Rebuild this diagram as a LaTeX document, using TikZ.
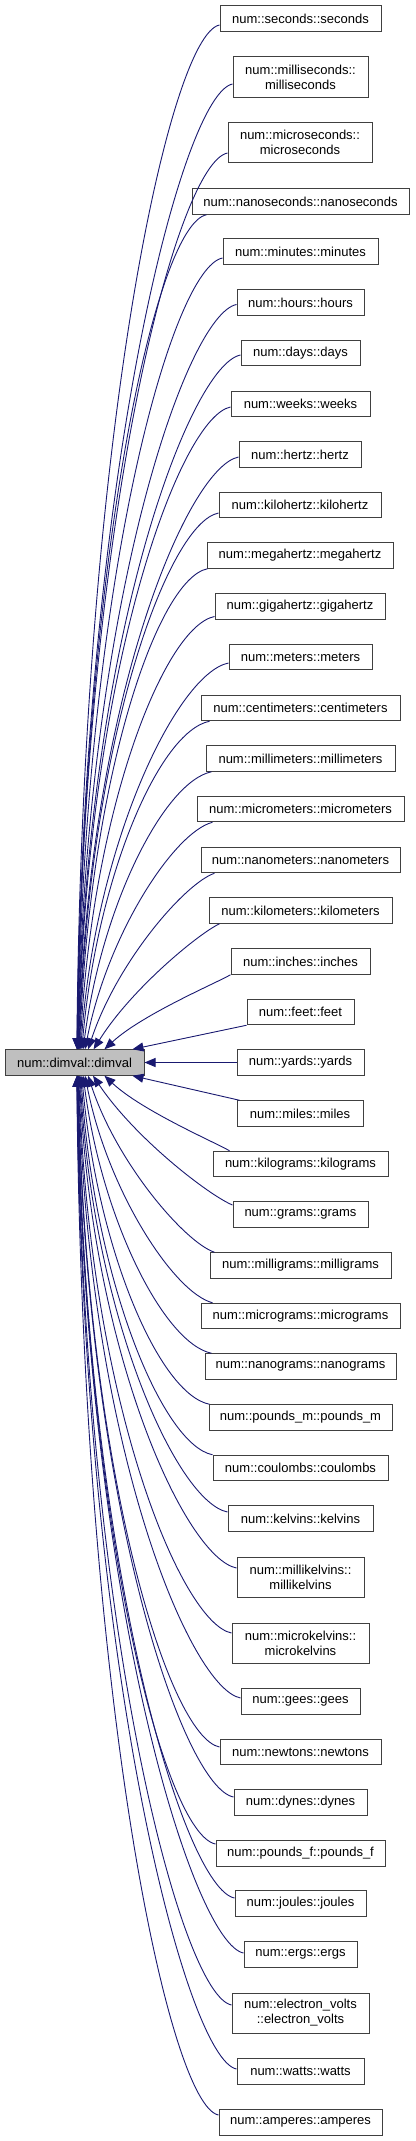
\documentclass[tikz,border=0pt]{standalone}
\usepackage{fontspec}
\setmainfont{Liberation Sans}
\usetikzlibrary{arrows.meta,calc}
\definecolor{edgeblue}{HTML}{191970}
\definecolor{boxgray}{HTML}{404040}
\definecolor{basefill}{HTML}{BFBFBF}
\tikzset{
  cls/.style={draw=boxgray, line width=1pt, fill=white, minimum height=25.5pt, inner sep=0pt,
    align=center, font=\fontsize{13}{15}\selectfont, text=black},
  clstwo/.style={cls, minimum height=40pt},
  edge/.style={draw=edgeblue, line width=0.9pt, -{Triangle[length=11pt,width=9pt]}},
}
\newcommand\upedge[1]{%
  \draw[edge] let \p1=(#1), \p3=(dimval.north),
    \n1={\y1-\y3}, \n2={min(30,2400/\n1)}, \n3={\x1-\x3-\n2},
    \n4={min(50,0.4*\n3*min(1,\n1/300))}, \n5={min(10,0.1*\n1)}, \n6={\n3*min(0.3,40/\n1)},
    \n7={(0.45+0.15*min(1,\n1/600))*\n1}
  in (\x1,\y1) .. controls ({\x1-\n4},{\y1-\n5}) and ({\x3+\n2+\n6},{\y3+\n7}) .. ({\x3+\n2},\y3);}
\newcommand\downedge[1]{%
  \draw[edge] let \p1=(#1), \p3=(dimval.south),
    \n1={\y3-\y1}, \n2={min(30,2400/\n1)}, \n3={\x1-\x3-\n2},
    \n4={min(50,0.4*\n3*min(1,\n1/300))}, \n5={min(10,0.1*\n1)}, \n6={\n3*min(0.3,40/\n1)},
    \n7={(0.45+0.15*min(1,\n1/600))*\n1}
  in (\x1,\y1) .. controls ({\x1-\n4},{\y1+\n5}) and ({\x3+\n2+\n6},{\y3-\n7}) .. ({\x3+\n2},\y3);}
\begin{document}
\begin{tikzpicture}[x=1pt,y=-1pt]
\useasboundingbox (0,0) rectangle (415,2141);
\node[cls, fill=basefill, minimum width=139pt] (dimval) at (74.5,1062.5) {num::dimval::dimval};

\node[cls, minimum width=161pt] (seconds) at (300.5,18.5) {num::seconds::seconds};
\node[clstwo, minimum width=135pt] (milliseconds) at (300.5,77) {num::milliseconds::\\milliseconds};
\node[clstwo, minimum width=144pt] (microseconds) at (300,142) {num::microseconds::\\microseconds};
\node[cls, minimum width=217pt] (nanoseconds) at (300.5,201.5) {num::nanoseconds::nanoseconds};
\node[cls, minimum width=155pt] (minutes) at (300.5,251.5) {num::minutes::minutes};
\node[cls, minimum width=127pt] (hours) at (300.5,302.5) {num::hours::hours};
\node[cls, minimum width=119pt] (days) at (300.5,353) {num::days::days};
\node[cls, minimum width=139pt] (weeks) at (300.5,404) {num::weeks::weeks};
\node[cls, minimum width=122pt] (hertz) at (300,454.5) {num::hertz::hertz};
\node[cls, minimum width=162pt] (kilohertz) at (300,505) {num::kilohertz::kilohertz};
\node[cls, minimum width=186pt] (megahertz) at (300,555.5) {num::megahertz::megahertz};
\node[cls, minimum width=170pt] (gigahertz) at (300,606.5) {num::gigahertz::gigahertz};
\node[cls, minimum width=143pt] (meters) at (300.5,657) {num::meters::meters};
\node[cls, minimum width=199pt] (centimeters) at (300.5,708) {num::centimeters::centimeters};
\node[cls, minimum width=189pt] (millimeters) at (300.5,758.5) {num::millimeters::millimeters};
\node[cls, minimum width=207pt] (micrometers) at (300.5,809) {num::micrometers::micrometers};
\node[cls, minimum width=199pt] (nanometers) at (300.5,860) {num::nanometers::nanometers};
\node[cls, minimum width=183pt] (kilometers) at (300.5,910.5) {num::kilometers::kilometers};
\node[cls, minimum width=139pt] (inches) at (300.5,961.5) {num::inches::inches};
\node[cls, minimum width=107pt] (feet) at (300.5,1012) {num::feet::feet};
\node[cls, minimum width=127pt] (yards) at (300.5,1062.5) {num::yards::yards};
\node[cls, minimum width=126pt] (miles) at (300,1113.5) {num::miles::miles};
\node[cls, minimum width=175pt] (kilograms) at (300.5,1164) {num::kilograms::kilograms};
\node[cls, minimum width=135pt] (grams) at (300.5,1214.5) {num::grams::grams};
\node[cls, minimum width=181pt] (milligrams) at (300.5,1265.5) {num::milligrams::milligrams};
\node[cls, minimum width=199pt] (micrograms) at (300.5,1316) {num::micrograms::micrograms};
\node[cls, minimum width=191pt] (nanograms) at (300.5,1366.5) {num::nanograms::nanograms};
\node[cls, minimum width=183pt] (poundsm) at (300.5,1417.5) {num::pounds\_m::pounds\_m};
\node[cls, minimum width=175pt] (coulombs) at (300.5,1468) {num::coulombs::coulombs};
\node[cls, minimum width=145pt] (kelvins) at (300.5,1518.5) {num::kelvins::kelvins};
\node[clstwo, minimum width=127pt] (millikelvins) at (300.5,1577) {num::millikelvins::\\millikelvins};
\node[clstwo, minimum width=137pt] (microkelvins) at (300.5,1643) {num::microkelvins::\\microkelvins};
\node[cls, minimum width=119pt] (gees) at (300.5,1701.5) {num::gees::gees};
\node[cls, minimum width=161pt] (newtons) at (300.5,1752) {num::newtons::newtons};
\node[cls, minimum width=133pt] (dynes) at (300.5,1802.5) {num::dynes::dynes};
\node[cls, minimum width=169pt] (poundsf) at (300.5,1853.5) {num::pounds\_f::pounds\_f};
\node[cls, minimum width=131pt] (joules) at (300.5,1903.5) {num::joules::joules};
\node[cls, minimum width=113pt] (ergs) at (300.5,1954.5) {num::ergs::ergs};
\node[clstwo, minimum width=137pt] (evolts) at (300.5,2013) {num::electron\_volts\\::electron\_volts};
\node[cls, minimum width=127pt] (watts) at (300.5,2071.5) {num::watts::watts};
\node[cls, minimum width=163pt] (amperes) at (300.5,2122.5) {num::amperes::amperes};

% edges from derived classes above
\upedge{[yshift=-6.5pt]seconds.west}
\upedge{[yshift=-7pt]milliseconds.west}
\upedge{[yshift=-11pt]microseconds.west}
\upedge{[xshift=15pt]nanoseconds.south west}
\upedge{[yshift=-6.5pt]minutes.west}
\upedge{[yshift=-2pt]hours.west}
\upedge{[yshift=-2pt]days.west}
\upedge{[yshift=-3pt]weeks.west}
\upedge{[yshift=-2.5pt]hertz.west}
\upedge{[yshift=-8pt]kilohertz.west}
\upedge{[xshift=1pt]megahertz.south west}
\upedge{[yshift=-10pt]gigahertz.west}
\upedge{[yshift=-6pt]meters.west}
\upedge{[xshift=9pt]centimeters.south west}
\upedge{[xshift=6pt]millimeters.south west}
\upedge{[xshift=16pt]micrometers.south west}
\upedge{[xshift=14pt]nanometers.south west}
\upedge{[xshift=11pt]kilometers.south west}
\upedge{inches.south west}
\draw[edge] (feet.south west) -- ([xshift=-12pt]dimval.north east);
\draw[edge] (yards.west) -- (dimval.east);
\draw[edge] ([xshift=3pt]miles.north west) -- ([xshift=-12pt]dimval.south east);
% edges from derived classes below
\downedge{[xshift=17pt]kilograms.north west}
\downedge{[yshift=9.5pt]grams.west}
\downedge{[xshift=5pt]milligrams.north west}
\downedge{[xshift=12pt]micrograms.north west}
\downedge{[xshift=7pt]nanograms.north west}
\downedge{[xshift=1pt]poundsm.north west}
\downedge{coulombs.north west}
\downedge{[yshift=6.5pt]kelvins.west}
\downedge{[yshift=9pt]millikelvins.west}
\downedge{[yshift=10pt]microkelvins.west}
\downedge{[yshift=3.5pt]gees.west}
\downedge{[yshift=5pt]newtons.west}
\downedge{[yshift=5.5pt]dynes.west}
\downedge{[yshift=9.5pt]poundsf.west}
\downedge{[yshift=5.5pt]joules.west}
\downedge{[yshift=1.5pt]ergs.west}
\downedge{[yshift=8pt]evolts.west}
\downedge{[yshift=2.5pt]watts.west}
\downedge{[yshift=7.5pt]amperes.west}
\end{tikzpicture}
\end{document}
